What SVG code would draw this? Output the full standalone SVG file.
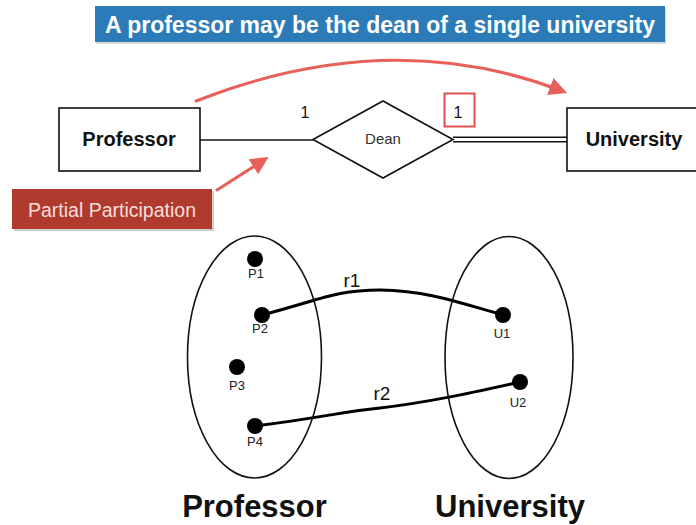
<svg xmlns="http://www.w3.org/2000/svg" width="696" height="525" viewBox="0 0 696 525">
<defs>
<style>
.box{fill:#fff;stroke:#111;stroke-width:1.6}
.ln{fill:none;stroke:#111;stroke-width:1.6}
.bold{font-family:"Liberation Sans",Arial,sans-serif;font-weight:bold;fill:#111}
.reg{font-family:"Liberation Sans",Arial,sans-serif;fill:#222}
.red{fill:none;stroke:#e8605a;stroke-width:3;stroke-linecap:round}
.dot{fill:#000}
.lbl{font-family:"Liberation Sans",Arial,sans-serif;font-size:13px;fill:#222;text-anchor:middle}
.rel{fill:none;stroke:#000;stroke-width:3;stroke-linecap:round}
</style>
<marker id="rh" viewBox="0 0 10 10" refX="7" refY="5" markerWidth="6" markerHeight="6" orient="auto" markerUnits="strokeWidth">
<path d="M0,0 L10,5 L0,10 z" fill="#e8605a"/>
</marker>
</defs>
<rect width="696" height="525" fill="#fff"/>

<g id="title">
<rect x="96" y="8" width="570" height="36" fill="#d8d8d8"/>
<rect x="95" y="6" width="570" height="36" fill="#2b7bb9"/>
<text x="380" y="33" text-anchor="middle" class="bold" font-size="23" style="fill:#fff">A professor may be the dean of a single university</text>
</g>

<g id="connectors">
<line class="ln" x1="200" y1="140" x2="313" y2="140"/>
<line class="ln" x1="453" y1="137.3" x2="567" y2="137.3"/>
<line class="ln" x1="453" y1="141.7" x2="567" y2="141.7"/>
<path class="red" d="M196,101 Q390,25 562,91" marker-end="url(#rh)"/>
<path class="red" d="M217,190 L264,160" marker-end="url(#rh)"/>
<path class="rel" d="M262,315 C320,300 335,290 380,290 C430,291 460,303 503,315"/>
<path class="rel" d="M255,426 C320,418 340,412 380,408 C430,402 470,393 520,382"/>
</g>

<g id="professor">
<rect class="box" x="59" y="108" width="141" height="63"/>
<text x="129" y="146" text-anchor="middle" class="bold" font-size="20">Professor</text>
</g>

<g id="dean">
<polygon class="box" points="313,139.5 383,101 453,139.5 383,178"/>
<text x="383" y="144" text-anchor="middle" class="reg" font-size="15" style="fill:#333">Dean</text>
</g>

<g id="university">
<rect class="box" x="567" y="108" width="140" height="63"/>
<text x="634" y="146" text-anchor="middle" class="bold" font-size="20">University</text>
</g>

<g id="card-left">
<text x="305" y="118" text-anchor="middle" class="reg" font-size="16" style="fill:#111">1</text>
</g>
<g id="card-right">
<rect x="444.5" y="93.5" width="30" height="33" fill="none" stroke="#e05050" stroke-width="2"/>
<text x="458" y="118" text-anchor="middle" class="reg" font-size="16" style="fill:#111">1</text>
</g>

<g id="partial">
<rect x="14" y="191" width="200" height="40" fill="#cfcfcf"/>
<rect x="12" y="189" width="200" height="40" fill="#b03a2e"/>
<text x="112" y="217" text-anchor="middle" class="reg" font-size="19.5" style="fill:#f6dedb">Partial Participation</text>
</g>

<g id="professor-set">
<ellipse class="ln" cx="254.5" cy="357" rx="67" ry="121"/>
<text x="254.5" y="517" text-anchor="middle" class="bold" font-size="31">Professor</text>
</g>
<g id="university-set">
<ellipse class="ln" cx="509" cy="357.5" rx="64" ry="121"/>
<text x="510" y="517" text-anchor="middle" class="bold" font-size="31">University</text>
</g>

<g id="p1"><circle class="dot" cx="255" cy="259" r="8"/><text class="lbl" x="256" y="278">P1</text></g>
<g id="p2"><circle class="dot" cx="262" cy="315" r="8"/><text class="lbl" x="260" y="333">P2</text></g>
<g id="p3"><circle class="dot" cx="237" cy="367" r="8"/><text class="lbl" x="237" y="390">P3</text></g>
<g id="p4"><circle class="dot" cx="255" cy="426" r="8"/><text class="lbl" x="255" y="446">P4</text></g>
<g id="u1"><circle class="dot" cx="503" cy="315" r="8"/><text class="lbl" x="502" y="338">U1</text></g>
<g id="u2"><circle class="dot" cx="520" cy="382" r="8"/><text class="lbl" x="518" y="407">U2</text></g>

<g id="r1-label"><text x="352" y="287" text-anchor="middle" class="reg" font-size="19" style="fill:#111">r1</text></g>
<g id="r2-label"><text x="382" y="400" text-anchor="middle" class="reg" font-size="19" style="fill:#111">r2</text></g>
</svg>
